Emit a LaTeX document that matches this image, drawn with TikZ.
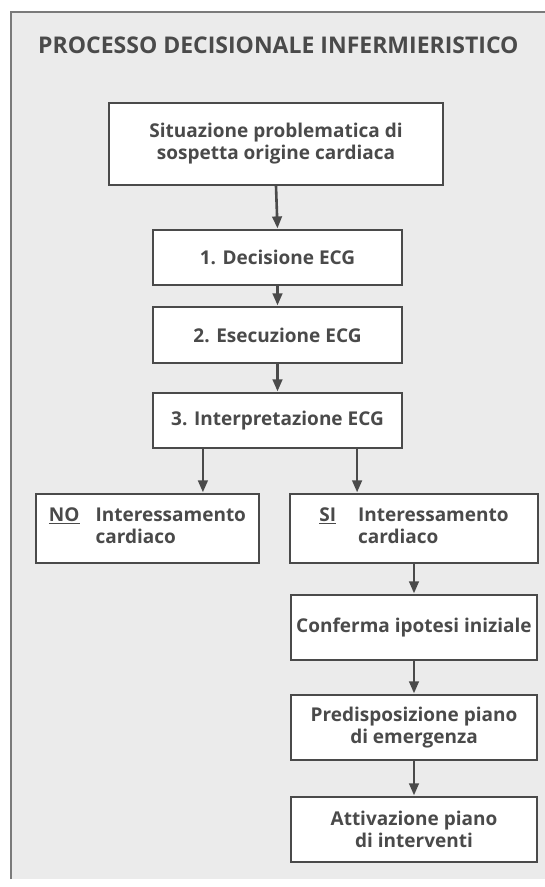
\documentclass[tikz,border=0pt]{standalone}
\usepackage{fontspec}
\setmainfont{Open Sans}
\usetikzlibrary{arrows.meta,calc}
\definecolor{ink}{HTML}{4A4A4A}
\definecolor{bg}{HTML}{EBEBEB}
\definecolor{frame}{HTML}{7A7A7A}
\tikzset{
  stepbox/.style={draw=ink, line width=2.2pt, fill=white, text=ink, inner sep=0pt,
    font=\fontsize{19}{22}\selectfont\bfseries, align=center, anchor=center},
  arr/.style={draw=ink, line width=2.6pt, -{Triangle[length=12pt,width=9.5pt]}, shorten >=0.5pt},
}
\begin{document}
\begin{tikzpicture}[x=1pt,y=-1pt]
\useasboundingbox (0,0) rectangle (545,887);
\fill[white] (0,0) rectangle (545,887);
\fill[bg] (11,12) rectangle (545,879);
\draw[frame, line width=1.6pt] (11,879) -- (11,12) -- (545,12);
\node[anchor=base west, text=ink, inner sep=0pt, font=\fontsize{23}{26}\selectfont\bfseries] (title) at (38,53) {PROCESSO DECISIONALE INFERMIERISTICO};

\node[stepbox, minimum width=334pt, minimum height=82pt] (b1) at (276,144) {Situazione problematica di\\sospetta origine cardiaca};
\node[stepbox, minimum width=249pt, minimum height=55pt] (b2) at (277.5,257.5) {1. Decisione ECG};
\node[stepbox, minimum width=249pt, minimum height=56pt] (b3) at (277.5,335) {2. Esecuzione ECG};
\node[stepbox, minimum width=249pt, minimum height=55pt] (b4) at (277.5,420.5) {3. Interpretazione ECG};
\node[stepbox, minimum width=223pt, minimum height=69pt] (no) at (147.5,528.5)
  {\begin{tabular}{@{}l@{\hspace{16pt}}l@{}}\underline{NO} & Interessamento\\ & cardiaco\end{tabular}};
\node[stepbox, minimum width=248pt, minimum height=69pt] (si) at (414,528.5)
  {\begin{tabular}{@{}l@{\hspace{22pt}}l@{}}\underline{SI} & Interessamento\\ & cardiaco\end{tabular}};
\node[stepbox, minimum width=246pt, minimum height=65pt] (c1) at (414,627.5) {Conferma ipotesi iniziale};
\node[stepbox, minimum width=246pt, minimum height=65pt] (c2) at (414,727.5) {Predisposizione piano\\di emergenza};
\node[stepbox, minimum width=246pt, minimum height=65pt] (c3) at (414,829.5) {Attivazione piano\\di interventi};

\draw[arr] (b1.south) -- (b2.north);
\draw[arr] (b2.south) -- (b3.north);
\draw[arr] (b3.south) -- (b4.north);
\draw[arr] ([xshift=51pt]b4.south west) -- ([xshift=51pt]b4.south west |- no.north);
\draw[arr] ([xshift=-46pt]b4.south east) -- ([xshift=-46pt]b4.south east |- si.north);
\draw[arr] (si.south) -- (c1.north);
\draw[arr] (c1.south) -- (c2.north);
\draw[arr] (c2.south) -- (c3.north);
\end{tikzpicture}
\end{document}
